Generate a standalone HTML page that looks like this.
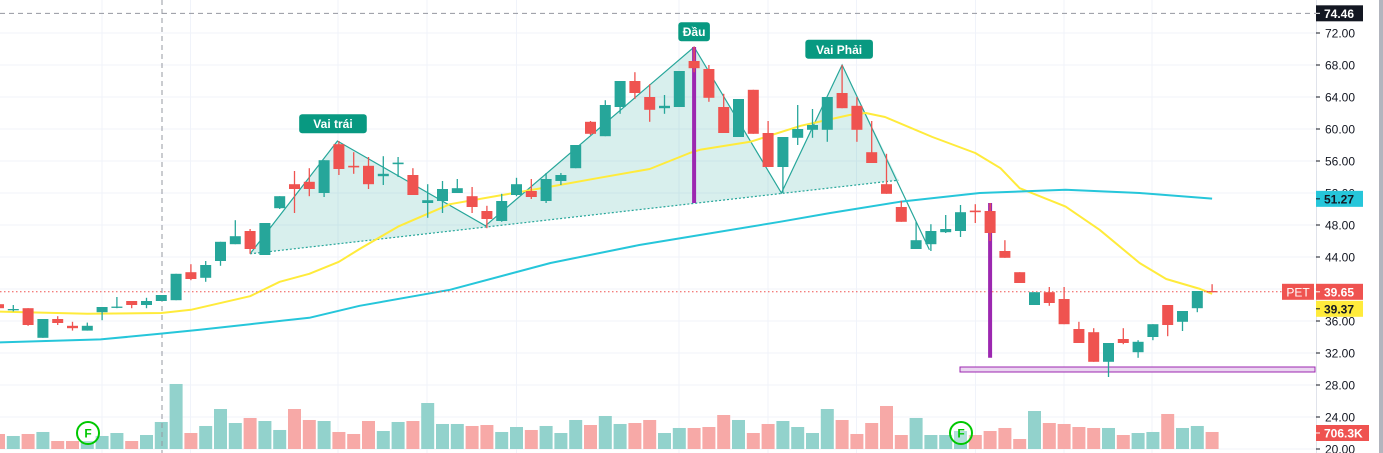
<!DOCTYPE html>
<html><head><meta charset="utf-8"><style>
html,body{margin:0;padding:0;background:#fff;}
svg{display:block;font-family:"Liberation Sans",sans-serif;}
</style></head><body>
<svg id="chart" width="1383" height="453" viewBox="0 0 1383 453" xmlns="http://www.w3.org/2000/svg"></svg>
<script>
// ---- data (first entry is the partially visible candle at the left edge) ----
const opens = [38.1,37.4,37.6,33.9,36.25,35.4,34.8,37.1,37.7,38.5,
38.0,38.5,38.6,42.1,41.4,43.5,45.6,47.25,44.25,50.1,
53.1,53.4,52.0,58.1,55.4,55.4,54.1,55.6,54.25,50.75,
51.0,52.0,51.6,49.75,48.5,51.75,52.25,51.0,53.5,55.1,
60.9,59.1,62.75,66.0,64.0,62.6,62.75,68.5,67.5,62.75,
59.0,64.9,59.5,55.25,58.9,59.9,59.9,64.5,62.9,57.1,
53.1,50.25,45.0,45.6,47.1,47.25,49.8,49.75,44.75,42.1,
38.0,39.6,38.75,35.0,34.6,30.9,33.75,32.1,34.0,38.0,
35.9,37.6,39.75];
const closes = [37.6,37.5,35.5,36.25,35.75,35.1,35.4,37.75,37.8,38.0,
38.5,39.25,41.9,41.25,43.0,45.9,46.6,45.0,48.25,51.6,
52.5,52.5,56.1,55.0,55.2,53.1,54.4,55.8,51.75,51.1,
52.5,52.6,50.25,48.75,51.0,53.1,51.5,53.75,54.25,58.0,
59.4,63.0,66.0,64.5,62.4,62.9,67.25,67.6,63.9,59.5,
63.75,59.4,55.25,59.0,60.0,60.5,64.0,62.6,59.9,55.75,
51.9,48.4,46.1,47.25,47.5,49.6,49.6,47.0,43.9,40.75,
39.6,38.25,35.6,33.25,30.9,33.25,33.25,33.4,35.6,35.5,
37.25,39.75,39.65];
const highs = [38.3,38.0,37.6,36.25,36.6,35.9,35.8,37.75,39.0,38.5,
38.9,39.25,41.9,43.1,43.5,45.9,48.6,47.5,48.25,51.6,
54.75,55.1,56.1,58.5,57.1,56.5,56.6,56.5,55.1,53.1,
53.5,53.75,52.75,50.4,51.9,53.9,53.75,54.5,54.5,58.0,
61.0,63.6,66.0,67.1,65.6,64.25,67.25,70.3,68.0,64.4,
63.75,64.9,61.0,59.0,63.0,62.5,64.0,68.0,64.0,61.0,
56.9,51.0,48.4,48.1,49.25,50.5,50.6,50.75,46.1,42.1,
39.6,40.25,40.25,35.9,35.1,33.25,35.1,33.6,35.6,38.0,
37.25,39.75,40.6];
const lows = [37.5,37.2,35.4,33.9,35.5,34.8,34.8,36.1,37.6,37.6,
37.6,38.5,38.6,41.1,40.9,42.9,45.6,44.4,44.25,50.0,
49.5,51.6,51.5,54.25,54.4,52.5,53.0,54.0,51.75,48.9,
49.5,52.0,49.5,47.6,48.4,51.6,51.25,50.75,53.0,55.1,
59.25,59.1,61.9,63.75,60.9,61.9,62.75,67.1,63.4,59.5,
59.0,59.4,55.25,52.0,58.0,58.9,58.4,62.6,58.4,55.75,
51.9,48.4,45.0,44.75,47.0,46.5,48.25,46.0,43.9,40.75,
38.0,37.9,35.6,33.25,30.9,29.0,33.1,31.4,33.6,34.1,
34.75,37.1,39.65];
const volumesK = [623,540,623,706,332,332,332,540,664,332,
581,1121,2698,664,955,1660,1079,1287,1162,789,
1660,1204,1162,706,623,1162,747,1121,1162,1909,
1038,1038,955,996,706,913,789,955,664,1204,
996,1370,1038,1079,1204,664,872,872,913,1411,
1204,664,1038,1162,913,664,1660,1204,623,1079,
1785,581,1287,581,581,747,581,747,872,415,
1577,1079,1038,913,872,872,581,664,706,1453,
872,955,706];
// moving averages as [candle index, value]
const maFast = [[-1.5,37.2],[5,36.9],[10,37.0],[12,37.4],[16,39.1],[18,40.9],[20,41.9],[22,43.4],[23.4,45.0],[26,47.8],[29.5,50.6],[32.9,51.7],[36.3,52.8],[39.6,53.9],[43,55.0],[45.7,57.0],[46.4,57.4],[49.8,58.4],[53.2,60.4],[56.5,61.75],[57.6,62.0],[58.9,61.5],[62.1,59.0],[65,57.0],[66.7,55.1],[68,52.6],[71.1,50.3],[73.4,47.4],[76.1,43.25],[77.9,41.25],[80.2,40.0],[81,39.4]];
const maSlow = [[-1.5,33.3],[5.9,33.7],[9.9,34.4],[12.6,34.9],[16,35.6],[20,36.4],[23.4,37.9],[29.5,39.9],[36.3,43.25],[42.3,45.5],[46.4,46.75],[51.8,48.4],[55.2,49.5],[59.9,50.9],[65.3,52.0],[71.1,52.4],[76.1,52.0],[81,51.3]];
// head & shoulders pattern pivots [index, price]
const patternPts = [[16,44.4],[21.9,58.5],[31.9,47.9],[46,70.25],[51.9,52.0],[56,68.0],[59.8,53.6]];
const patternTail = [61.9,44.9];
const patternLabels = [["Vai trái",21.6,59.1],["Đầu",46,70.6],["Vai Phải",55.8,68.4]];
const priceTicks = [72,68,64,60,56,52,48,44,40,36,32,28,24,20];
const lastPrice = 39.65, maFastLast = 39.37, maSlowLast = 51.27, crossPrice = 74.46;
const lastVolLabel = "706.3K";

// ---- scales ----
const X0 = 13.3, STEP = 14.8;
function xs(i){ return X0 + STEP*i; }
function ys(p){ return 33 + (72 - p)*8; }
function vh(v){ return v/41.5; }
const VBASE = 449;

const svg = document.getElementById('chart');
const NS = 'http://www.w3.org/2000/svg';
function mk(tag, attrs, parent){
  const e = document.createElementNS(NS, tag);
  for (const k in attrs) e.setAttribute(k, attrs[k]);
  (parent||svg).appendChild(e);
  return e;
}

// grid
const gGrid = mk('g', {});


priceTicks.forEach(p => { mk('line', {x1:0,x2:1316,y1:ys(p),y2:ys(p),stroke:'#f0f3fa','stroke-width':1}, gGrid); });
[102,190.5,338,427,516.5,679,768,856.5,975.5,1064,1152].forEach(x => { mk('line', {x1:x,x2:x,y1:0,y2:453,stroke:'#f0f3fa','stroke-width':1}, gGrid); });

// volume
const gVol = mk('g', {});


volumesK.forEach((v, k) => {
  const i = k - 1;
  const up = closes[k] >= opens[k];
  const r = mk('rect', {x:xs(i)-6.5, y:VBASE-vh(v), width:13, height:vh(v), fill: up ? '#92d2cc' : '#f7a9a7'}, gVol);
  
  
});

// crosshair
const ch1 = mk('line', {x1:162,x2:162,y1:0,y2:453,stroke:'#9598a1','stroke-width':1,'stroke-dasharray':'5,4'});


const ch2 = mk('line', {x1:0,x2:1316,y1:ys(crossPrice),y2:ys(crossPrice),stroke:'#9598a1','stroke-width':1,'stroke-dasharray':'5,4'});



// pattern fill
const poly = patternPts.map(p => xs(p[0])+','+ys(p[1])).join(' ');
const pf = mk('polygon', {points: poly, fill:'rgba(38,166,154,0.18)', stroke:'none'});


const first = patternPts[0], lastP = patternPts[patternPts.length-1];
const neck = mk('line', {x1:xs(first[0]),y1:ys(first[1]),x2:xs(lastP[0]),y2:ys(lastP[1]),stroke:'#26a69a','stroke-width':1.2,'stroke-dasharray':'2,2'});


const zz = patternPts.slice(0, patternPts.length-1).concat([patternTail]).map(p => xs(p[0])+','+ys(p[1])).join(' ');
const zl = mk('polyline', {points: zz, fill:'none', stroke:'#26a69a','stroke-width':1.2});



// MAs
function maPath(arr){ return arr.map(p => xs(p[0]).toFixed(1)+','+ys(p[1]).toFixed(1)).join(' '); }
const mf = mk('polyline', {points: maPath(maFast), fill:'none', stroke:'#ffeb3b','stroke-width':2,'stroke-linejoin':'round'});


const ms = mk('polyline', {points: maPath(maSlow), fill:'none', stroke:'#26c6da','stroke-width':2,'stroke-linejoin':'round'});



// last price dotted line
const lp = mk('line', {x1:0,x2:1283,y1:ys(lastPrice),y2:ys(lastPrice),stroke:'#ef5350','stroke-width':1,'stroke-dasharray':'1.5,2.5'});



// purple measure lines
const pl1 = mk('line', {x1:xs(46),x2:xs(46),y1:ys(70.25),y2:ys(50.75),stroke:'#9c27b0','stroke-width':4});


const pl2 = mk('line', {x1:xs(66),x2:xs(66),y1:ys(50.75),y2:ys(31.4),stroke:'#9c27b0','stroke-width':4});


const tz = mk('rect', {x:960,y:ys(30.25),width:355,height:5,fill:'#ead6f0',stroke:'#9c27b0','stroke-width':1});



// candles
const gC = mk('g', {});


opens.forEach((o, k) => {
  const i = k - 1, c = closes[k];
  const col = c >= o ? '#26a69a' : '#ef5350';
  const x = xs(i);
  const g = mk('g', {}, gC);
  
  
  mk('line', {x1:x,x2:x,y1:ys(highs[k]),y2:ys(lows[k]),stroke:col,'stroke-width':1.3}, g);
  const top = ys(Math.max(o,c)), bot = ys(Math.min(o,c));
  mk('rect', {x:x-5.5,y:top,width:11,height:Math.max(1.3,bot-top),fill:col}, g);
});

// pattern labels
patternLabels.forEach(l => {
  const x = xs(l[1]), y = ys(l[2]) - 12;
  const w = l[0].length*7.2 + 10;
  const g = mk('g', {});
  
  
  mk('rect', {x:x-w/2,y:y-10,width:w,height:19,rx:3,fill:'#089981'}, g);
  const t = mk('text', {x:x,y:y+4,'text-anchor':'middle',fill:'#fff','font-size':12,'font-weight':'bold'}, g);
  t.textContent = l[0];
});

// F markers
[[88,433],[961,433]].forEach(p => {
  const g = mk('g', {});
  
  
  mk('circle', {cx:p[0],cy:p[1],r:11,fill:'rgba(255,255,255,0.3)',stroke:'#00c800','stroke-width':2}, g);
  const t = mk('text', {x:p[0],y:p[1]+4.5,'text-anchor':'middle',fill:'#00c800','font-size':12,'font-weight':'bold'}, g);
  t.textContent = 'F';
});

// right axis
const gA = mk('g', {});


mk('rect', {x:1316,y:0,width:67,height:453,fill:'#fff'}, gA);
mk('line', {x1:1316.5,x2:1316.5,y1:0,y2:453,stroke:'#e0e3eb','stroke-width':1}, gA);
mk('rect', {x:1379,y:0,width:4,height:453,fill:'#b2b5be'}, gA);
priceTicks.forEach(p => {
  mk('line', {x1:1316,x2:1320,y1:ys(p),y2:ys(p),stroke:'#131722','stroke-width':1}, gA);
  const t = mk('text', {x:1325,y:ys(p)+4.5,fill:'#131722','font-size':12}, gA);
  
  
  t.textContent = p.toFixed(2);
});
function badge(name, val, y, bg, fg, w){
  const g = mk('g', {});
  
  
  mk('rect', {x:1316,y:y-8,width:w||47,height:16,fill:bg}, g);
  mk('line', {x1:1316,x2:1320,y1:y,y2:y,stroke:fg,'stroke-width':1}, g);
  const t = mk('text', {x:1324,y:y+4.5,fill:fg,'font-size':12,'font-weight':'bold'}, g);
  t.textContent = val;
}
badge('crosshair-price-label', crossPrice.toFixed(2), ys(crossPrice), '#131722', '#fff');
badge('ma-slow-label', maSlowLast.toFixed(2), ys(maSlowLast), '#26c6da', '#131722');
badge('ma-fast-label', maFastLast.toFixed(2), ys(lastPrice)+17, '#ffeb3b', '#131722');
badge('last-price-label', lastPrice.toFixed(2), ys(lastPrice), '#ef5350', '#fff');
badge('volume-label', lastVolLabel, 433, '#ef5350', '#fff', 53);
const sym = mk('g', {});


mk('rect', {x:1282,y:ys(lastPrice)-8,width:32,height:16,fill:'#ef5350'}, sym);
const st = mk('text', {x:1298,y:ys(lastPrice)+4.5,'text-anchor':'middle',fill:'#fff','font-size':12}, sym);
st.textContent = 'PET';
</script>
</body></html>
